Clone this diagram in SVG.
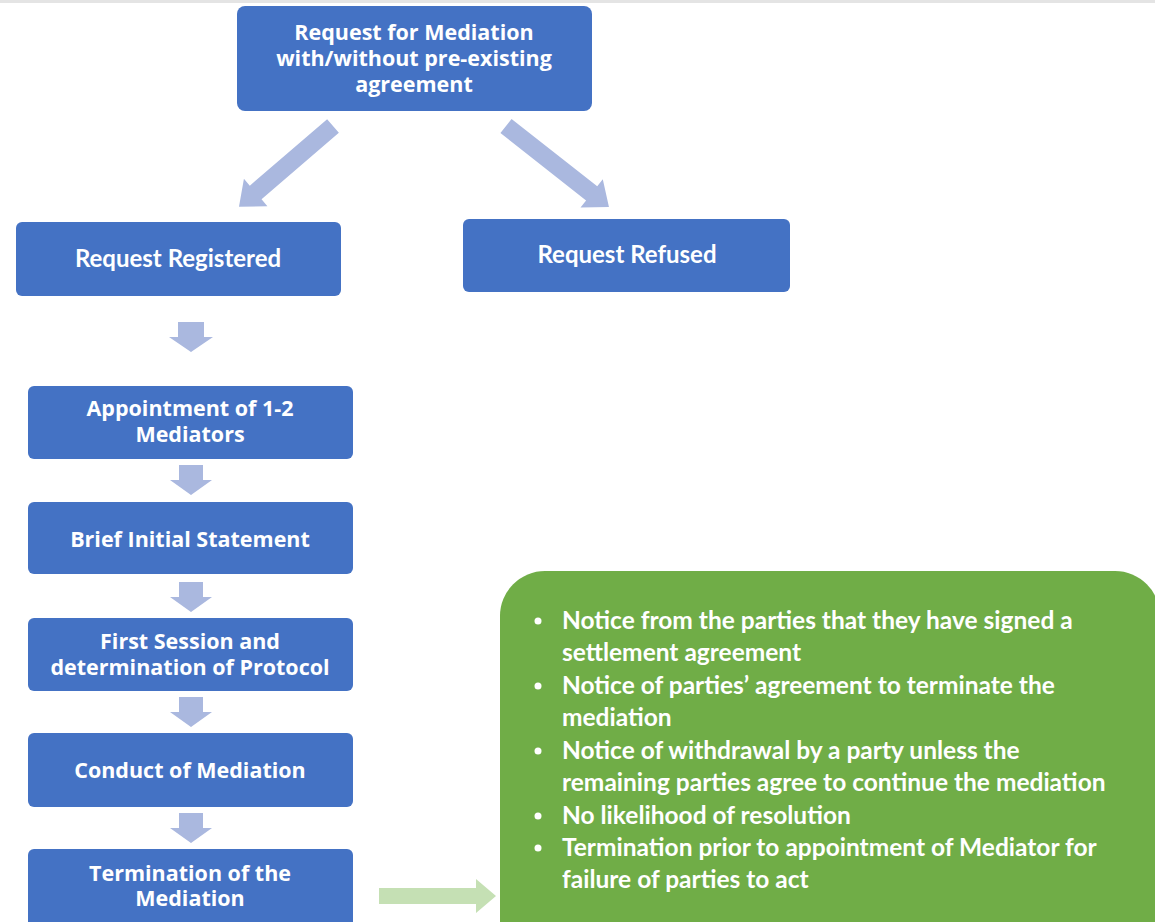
<svg xmlns="http://www.w3.org/2000/svg" width="1155" height="922" viewBox="0 0 1155 922">
<style>
.node{fill:#4472c4;}
.t{fill:#ffffff;font-family:"Open Sans","Liberation Sans",sans-serif;font-weight:bold;font-size:21.5px;text-anchor:middle;}
.c{fill:#ffffff;font-family:Lato,"Liberation Sans",sans-serif;font-weight:bold;font-size:24px;text-anchor:middle;}
.g{fill:#ffffff;font-family:Lato,"Liberation Sans",sans-serif;font-weight:bold;font-size:24.5px;}
.arr{fill:#aab8df;}
.garr{fill:#c5e0b4;}
</style>
<rect x="0" y="0" width="1155" height="923" fill="#ffffff"/>
<rect x="0" y="0" width="1155" height="3" fill="#e4e4e4"/>
<g id="connectors">
<path class="arr" transform="translate(333,126) rotate(139.3)" d="M0,-9 H102 V-18 L124,0 L102,18 V9 H0 Z"/>
<path class="arr" transform="translate(506,126) rotate(38.2)" d="M0,-9 H109 V-18 L131,0 L109,18 V9 H0 Z"/>
<path class="arr" d="M178,322 H204 V337 H213 L191,352 L169,337 H178 Z"/>
<path class="arr" d="M179,465 H203 V480 H212 L191,495 L170,480 H179 Z"/>
<path class="arr" d="M179,582 H203 V597 H212 L191,612 L170,597 H179 Z"/>
<path class="arr" d="M179,697 H203 V712 H212 L191,727 L170,712 H179 Z"/>
<path class="arr" d="M179,813 H203 V828 H212 L191,843 L170,828 H179 Z"/>
<path class="garr" d="M379,888 H476 V879 L496,896 L476,913 V904 H379 Z"/>
</g>
<g id="n-request">
<rect class="node" x="237" y="6" width="355" height="105" rx="8"/>
<text class="t" x="414" y="40">Request for Mediation</text>
<text class="t" x="414" y="66">with/without pre-existing</text>
<text class="t" x="414" y="92">agreement</text>
</g>
<g id="n-registered">
<rect class="node" x="16" y="222" width="325" height="74" rx="6"/>
<text class="c" x="178" y="267">Request Registered</text>
</g>
<g id="n-refused">
<rect class="node" x="463" y="219" width="327" height="73" rx="6"/>
<text class="c" x="627" y="263">Request Refused</text>
</g>
<g id="n-appointment">
<rect class="node" x="28" y="386" width="325" height="73" rx="6"/>
<text class="t" x="190" y="416">Appointment of 1-2</text>
<text class="t" x="190" y="442">Mediators</text>
</g>
<g id="n-brief">
<rect class="node" x="28" y="502" width="325" height="72" rx="6"/>
<text class="t" x="190" y="547">Brief Initial Statement</text>
</g>
<g id="n-first">
<rect class="node" x="28" y="618" width="325" height="73" rx="6"/>
<text class="t" x="190" y="649">First Session and</text>
<text class="t" x="190" y="675">determination of Protocol</text>
</g>
<g id="n-conduct">
<rect class="node" x="28" y="733" width="325" height="74" rx="6"/>
<text class="t" x="190" y="778">Conduct of Mediation</text>
</g>
<g id="n-termination">
<rect class="node" x="28" y="849" width="325" height="80" rx="6"/>
<text class="t" x="190" y="881">Termination of the</text>
<text class="t" x="190" y="906">Mediation</text>
</g>
<g id="n-grounds">
<rect x="500" y="571" width="660" height="400" rx="45" fill="#70ad47"/>
<circle cx="538" cy="621" r="3.5" fill="#ffffff"/>
<circle cx="538" cy="686" r="3.5" fill="#ffffff"/>
<circle cx="538" cy="751" r="3.5" fill="#ffffff"/>
<circle cx="538" cy="816" r="3.5" fill="#ffffff"/>
<circle cx="538" cy="848" r="3.5" fill="#ffffff"/>
<text class="g" x="562" y="629">Notice from the parties that they have signed a</text>
<text class="g" x="562" y="661">settlement agreement</text>
<text class="g" x="562" y="694">Notice of parties’ agreement to terminate the</text>
<text class="g" x="562" y="726">mediation</text>
<text class="g" x="562" y="759">Notice of withdrawal by a party unless the</text>
<text class="g" x="562" y="791">remaining parties agree to continue the mediation</text>
<text class="g" x="562" y="824">No likelihood of resolution</text>
<text class="g" x="562" y="856">Termination prior to appointment of Mediator for</text>
<text class="g" x="562" y="888">failure of parties to act</text>
</g>
</svg>
